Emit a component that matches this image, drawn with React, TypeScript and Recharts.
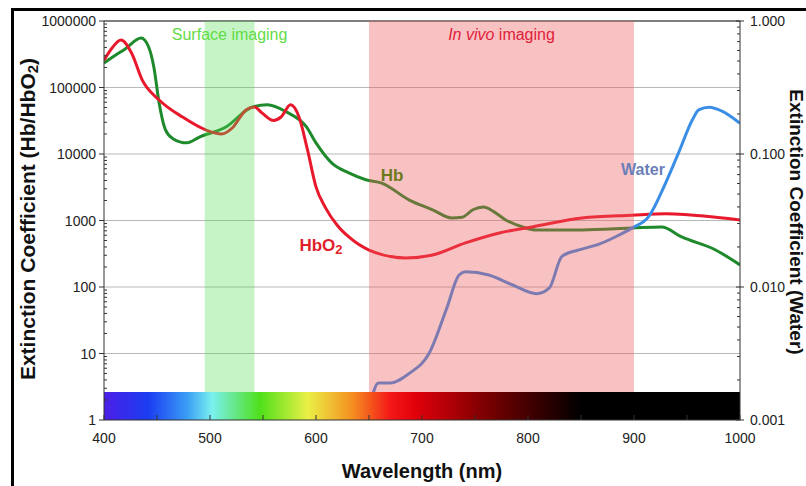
import React from 'react';
import { LineChart, Line, XAxis, YAxis, ReferenceArea, ReferenceLine } from 'recharts';

// Hb (deoxy-haemoglobin), left axis
const hbWavelengths = [400, 410, 420, 435, 442, 447, 452, 458, 465, 478, 490, 515, 540, 554, 572, 591, 600, 615, 631, 647, 662, 688, 710, 728, 738, 748, 758, 768, 779, 795, 808, 851, 898, 926, 945, 977, 1000];
const hbValues = [234000, 300000, 380000, 553000, 410000, 204000, 58600, 23000, 17000, 14700, 18000, 25500, 51000, 55000, 43000, 25500, 14700, 7300, 5200, 4100, 3650, 2030, 1450, 1090, 1120, 1450, 1590, 1350, 1020, 800, 720, 720, 770, 800, 565, 360, 215];

// HbO2 (oxy-haemoglobin), left axis
const hbo2Wavelengths = [400, 408, 416, 426, 436, 452, 474, 496, 511, 521, 534, 542, 549, 560, 567, 576, 584, 592, 600, 609, 620, 631, 650, 685, 709, 741, 773, 804, 851, 898, 930, 977, 1000];
const hbo2Values = [258000, 400000, 517000, 330000, 130000, 65000, 36000, 23000, 20000, 24600, 46000, 51000, 41500, 32000, 36000, 55000, 36000, 11500, 3200, 1550, 850, 565, 360, 273, 300, 460, 650, 800, 1090, 1200, 1260, 1120, 1020];

// Water, right axis
const waterWavelengths = [650, 659, 670, 688, 707, 723, 735, 741, 763, 785, 808, 820, 832, 848, 867, 886, 898, 914, 930, 942, 955, 961, 971, 983, 1000];
const waterValues = [0.0012, 0.0019, 0.0019, 0.00224, 0.0032, 0.0068, 0.0123, 0.013, 0.0123, 0.0104, 0.0089, 0.0098, 0.017, 0.019, 0.021, 0.0246, 0.0277, 0.034, 0.061, 0.102, 0.18, 0.215, 0.225, 0.21, 0.17];

const xTicks = [400, 450, 500, 550, 600, 650, 700, 750, 800, 850, 900, 950, 1000];
const leftDecades = [1, 10, 100, 1000, 10000, 100000, 1000000];
const rightDecades = [0.001, 0.01, 0.1, 1];
const gridDecades = [10, 100, 1000, 10000, 100000];

const surfaceBand = [495, 542];
const inVivoBand = [650, 900];
const spectrumTop = 2.63;

const FONT = '"Liberation Sans", Arial, Helvetica, sans-serif';

const hbData = hbWavelengths.map((wl, i) => ({ wl, hb: hbValues[i] }));
const hbo2Data = hbo2Wavelengths.map((wl, i) => ({ wl, hbo2: hbo2Values[i] }));
const waterData = waterWavelengths.map((wl, i) => ({ wl, water: waterValues[i] }));

const withMinors = (decades: number[]) =>
  decades.flatMap((d, i) => (i === decades.length - 1 ? [d] : [1, 2, 3, 4, 5, 6, 7, 8, 9].map(k => d * k)));

const isDecade = (v: number) => Math.abs(Math.log10(v) - Math.round(Math.log10(v))) < 1e-9;

function LeftTick({ x, y, payload }: any) {
  const v = payload.value;
  if (!isDecade(v)) return <line x1={x} x2={x + 3} y1={y} y2={y} stroke="#333" />;
  return (
    <g>
      <line x1={x - 5} x2={x} y1={y} y2={y} stroke="#333" />
      <text x={x - 8} y={y} dy={5} textAnchor="end" fontSize={14} fill="#222" fontFamily={FONT}>{String(Math.round(v))}</text>
    </g>
  );
}

function RightTick({ x, y, payload }: any) {
  const v = payload.value;
  if (!isDecade(v)) return <line x1={x - 3} x2={x} y1={y} y2={y} stroke="#333" />;
  return (
    <g>
      <line x1={x - 4} x2={x + 4} y1={y} y2={y} stroke="#333" />
      <text x={x + 10} y={y} dy={5} textAnchor="start" fontSize={14} fill="#222" fontFamily={FONT}>{v.toFixed(3)}</text>
    </g>
  );
}

function XTick({ x, y, payload }: any) {
  const v = payload.value;
  return (
    <g>
      <line x1={x} x2={x} y1={y} y2={y - 5} stroke="#333" />
      {v % 100 === 0 && (
        <text x={x} y={y} dy={23} textAnchor="middle" fontSize={14} fill="#222" fontFamily={FONT}>{v}</text>
      )}
    </g>
  );
}

function BandLabel({ viewBox, parts, color }: any) {
  const { x, y, width } = viewBox;
  return (
    <text x={x + width / 2} y={y + 19} textAnchor="middle" fontSize={16} fill={color} fontFamily={FONT}>
      {parts.map((p: any, i: number) => (
        <tspan key={i} fontStyle={p.italic ? 'italic' : 'normal'}>{p.text}</tspan>
      ))}
    </text>
  );
}

const abs = (cx: number, cy: number, extra: React.CSSProperties = {}): React.CSSProperties => ({
  position: 'absolute', left: cx, top: cy, transform: 'translate(-50%, -50%)', whiteSpace: 'nowrap',
  fontFamily: FONT, lineHeight: 1, ...extra,
});

export default function App() {
  return (
    <div style={{ position: 'absolute', left: 0, top: 0, width: 806, height: 486, overflow: 'hidden', background: '#fff' }}>
      <div style={{ position: 'absolute', left: 11, top: 8, width: 900, height: 600, border: '3px solid #000', boxSizing: 'border-box' }} />
      <div style={{ position: 'absolute', left: 0, top: 0 }}>
        <LineChart width={806} height={486} margin={{ top: 21, right: 0, bottom: 0, left: 0 }}>
          <defs>
            <linearGradient id="spectrum" x1="0" y1="0" x2="1" y2="0">
              <stop offset="0%" stopColor="#4b1fe6" />
              <stop offset="7%" stopColor="#1b3df2" />
              <stop offset="13%" stopColor="#3a9cf5" />
              <stop offset="17%" stopColor="#7af0ef" />
              <stop offset="24.5%" stopColor="#4fe01a" />
              <stop offset="32%" stopColor="#eaf046" />
              <stop offset="39%" stopColor="#f49020" />
              <stop offset="45%" stopColor="#f41818" />
              <stop offset="49%" stopColor="#e0000a" />
              <stop offset="62%" stopColor="#6a0000" />
              <stop offset="75%" stopColor="#000000" />
              <stop offset="100%" stopColor="#000000" />
            </linearGradient>
          </defs>
          <XAxis dataKey="wl" type="number" domain={[400, 1000]} ticks={xTicks} interval={0} allowDataOverflow
            height={66} tickSize={0} tickMargin={0} tickLine={false} axisLine={{ stroke: '#333' }} tick={<XTick />} />
          <YAxis yAxisId="left" scale="log" domain={[1, 1000000]} ticks={withMinors(leftDecades)} interval={0} allowDataOverflow
            width={104} tickSize={0} tickMargin={0} tickLine={false} axisLine={{ stroke: '#333' }} tick={<LeftTick />} />
          <YAxis yAxisId="right" orientation="right" scale="log" domain={[0.001, 1]} ticks={withMinors(rightDecades)} interval={0} allowDataOverflow
            width={66} tickSize={0} tickMargin={0} tickLine={false} axisLine={{ stroke: '#333' }} tick={<RightTick />} />
          {gridDecades.map(v => (
            <ReferenceLine key={v} yAxisId="left" y={v} stroke="#b8b8b8" strokeWidth={1} />
          ))}
          <ReferenceLine yAxisId="left" y={1000000} stroke="#555" strokeWidth={1.5} />
          <Line yAxisId="left" data={hbData} dataKey="hb" type="monotone" stroke="#1f8a2c" strokeWidth={3} dot={false} isAnimationActive={false} />
          <Line yAxisId="left" data={hbo2Data} dataKey="hbo2" type="monotone" stroke="#e8192c" strokeWidth={3} dot={false} isAnimationActive={false} />
          <Line yAxisId="right" data={waterData} dataKey="water" type="monotone" stroke="#3b8ee6" strokeWidth={3} dot={false} isAnimationActive={false} />
          <ReferenceArea yAxisId="left" x1={surfaceBand[0]} x2={surfaceBand[1]} fill="#50dc50" fillOpacity={0.32} stroke="none" zIndex={450}
            label={<BandLabel parts={[{ text: 'Surface imaging' }]} color="#62dc46" />} />
          <ReferenceArea yAxisId="left" x1={inVivoBand[0]} x2={inVivoBand[1]} fill="#ee5959" fillOpacity={0.37} stroke="none" zIndex={450}
            label={<BandLabel parts={[{ text: 'In vivo', italic: true }, { text: ' imaging' }]} color="#e0203a" />} />
          <ReferenceArea yAxisId="left" x1={400} x2={1000} y1={1} y2={spectrumTop} fill="url(#spectrum)" fillOpacity={1} stroke="none" zIndex={460} />
        </LineChart>
      </div>
      <div style={abs(392, 175, { fontSize: 17, fontWeight: 700, color: '#6b7a1f' })}>Hb</div>
      <div style={abs(321, 246, { fontSize: 17, fontWeight: 700, color: '#e01f2d' })}>HbO<sub style={{ fontSize: 13, verticalAlign: -3 }}>2</sub></div>
      <div style={abs(643, 170, { fontSize: 16, fontWeight: 700, color: '#6a7fb8' })}>Water</div>
      <div style={abs(422, 471, { fontSize: 20, fontWeight: 700, color: '#111' })}>Wavelength (nm)</div>
      <div style={{ ...abs(28, 219, { fontSize: 21, fontWeight: 700, color: '#111' }), transform: 'translate(-50%, -50%) rotate(-90deg)' }}>
        Extinction Coefficient (Hb/HbO<sub style={{ fontSize: 15, verticalAlign: -3 }}>2</sub>)
      </div>
      <div style={{ ...abs(796, 222, { fontSize: 19, fontWeight: 700, color: '#111' }), transform: 'translate(-50%, -50%) rotate(90deg)' }}>
        Extinction Coefficient (Water)
      </div>
    </div>
  );
}
